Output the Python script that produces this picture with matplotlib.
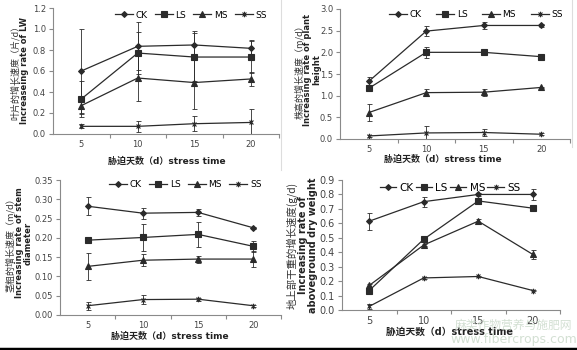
import numpy as np
import matplotlib
matplotlib.use('Agg')
import matplotlib.pyplot as plt
from matplotlib.path import Path
from matplotlib.lines import Line2D

plt.rcParams['font.family'] = ['DejaVu Sans', 'Noto Sans CJK SC']

days = ['5', '10', '15', '20']
series = ['CK', 'LS', 'MS', 'SS']

# 叶片增长速度 (LW)
lw = {'CK': [0.60, 0.835, 0.848, 0.816], 'LS': [0.333, 0.771, 0.733, 0.733],
      'MS': [0.27, 0.533, 0.49, 0.524], 'SS': [0.073, 0.073, 0.098, 0.11]}
lw_err = {'CK': [0.40, 0.23, 0.13, 0.08], 'LS': [0.17, 0.20, 0.23, 0.15],
          'MS': [0.08, 0.22, 0.25, 0.065], 'SS': [0.02, 0.055, 0.07, 0.13]}

# 株高增长速度
ph = {'CK': [1.33, 2.49, 2.62, 2.62], 'LS': [1.17, 2.0, 2.0, 1.90],
      'MS': [0.61, 1.07, 1.08, 1.19], 'SS': [0.07, 0.14, 0.15, 0.11]}
ph_err = {'CK': [0.09, 0.12, 0.08, 0.04], 'LS': [0.03, 0.13, 0.03, 0.03],
          'MS': [0.19, 0.08, 0.08, 0.02], 'SS': [0.03, 0.15, 0.09, 0.02]}

# 茎粗增长速度
sd = {'CK': [0.282, 0.264, 0.266, 0.226], 'LS': [0.194, 0.201, 0.209, 0.178],
      'MS': [0.126, 0.142, 0.145, 0.145], 'SS': [0.024, 0.040, 0.041, 0.024]}
sd_err = {'CK': [0.023, 0.014, 0.010, 0.003], 'LS': [0.003, 0.035, 0.032, 0.015],
          'MS': [0.034, 0.016, 0.009, 0.020], 'SS': [0.010, 0.012, 0.004, 0.002]}

# 地上部干重增长速度
dw = {'CK': [0.615, 0.75, 0.80, 0.80], 'LS': [0.135, 0.49, 0.755, 0.705],
      'MS': [0.17, 0.45, 0.615, 0.385], 'SS': [0.025, 0.222, 0.232, 0.135]}
dw_err = {'CK': [0.06, 0.035, 0.01, 0.04], 'LS': [0.01, 0.02, 0.02, 0.01],
          'MS': [0.01, 0.01, 0.015, 0.03], 'SS': [0.015, 0.005, 0.005, 0.005]}

star = Path([(-1, -1), (1, 1), (-1, 1), (1, -1), (0, -1.4), (0, 1.4)],
            [Path.MOVETO, Path.LINETO, Path.MOVETO, Path.LINETO, Path.MOVETO, Path.LINETO])
markers = {'CK': ('D', 3.0), 'LS': ('s', 4.5), 'MS': ('^', 4.5), 'SS': (star, 4.0)}

W, H = 577, 350
fig = plt.figure(figsize=(W / 100, H / 100), dpi=100)
line_c = '#2b2b2b'
axis_c = '#8a8a8a'


def fx(px):
    return px / W


def fy(py):
    return 1 - py / H


def panel(box, data, err, ylim, yticks, yfmt, legpos, fs=6, colsp=1.0, hl=2.0):
    l, r, t, b = box
    ax = fig.add_axes([fx(l), fy(b), fx(r - l), (b - t) / H])
    x = np.arange(1, 5)
    for s in series:
        m, ms = markers[s]
        ax.errorbar(x, data[s], yerr=err[s], fmt='none', ecolor=line_c, elinewidth=0.6,
                    capsize=1.8, capthick=0.6)
        ax.plot(x, data[s], color=line_c, lw=0.9, marker=m, ms=ms, mfc=line_c,
                mec=line_c, mew=0.8, label=s)
    ax.set_xlim(0.5, 4.5)
    ax.set_ylim(*ylim)
    ax.set_yticks(yticks)
    ax.set_yticklabels([yfmt.format(v) for v in yticks])
    ax.set_xticks([1.5, 2.5, 3.5, 4.5])
    ax.set_xticklabels([])
    ax.set_xticks(x, minor=True)
    ax.set_xticklabels(days, minor=True)
    ax.tick_params(axis='x', which='minor', length=0, pad=4.5, labelsize=fs, colors='#444444')
    ax.tick_params(axis='x', which='major', length=3, color=axis_c)
    ax.tick_params(axis='y', length=3, color=axis_c, labelsize=fs, labelcolor='#444444', pad=2)
    for sp in ['top', 'right']:
        ax.spines[sp].set_visible(False)
    for sp in ['left', 'bottom']:
        ax.spines[sp].set_color(axis_c)
        ax.spines[sp].set_linewidth(0.8)
    ax.legend(loc='center', bbox_to_anchor=legpos, ncol=4, frameon=False, fontsize=fs + 0.5,
              handlelength=hl, handletextpad=0.3, columnspacing=colsp, borderpad=0)
    return ax


panel((53, 279, 8, 134), lw, lw_err, (0, 1.2), np.arange(0, 1.21, 0.2), '{:.1f}', (0.61, 0.944), colsp=0.8)
panel((340, 570, 9, 139), ph, ph_err, (0, 3.0), np.arange(0, 3.01, 0.5), '{:.1f}', (0.59, 0.954), colsp=1.6)
panel((60, 281, 180, 315), sd, sd_err, (0, 0.35), np.arange(0, 0.351, 0.05), '{:.2f}', (0.566, 0.963), colsp=0.8)
panel((342, 560, 180, 310), dw, dw_err, (0, 0.9), np.arange(0, 0.91, 0.1), '{:.1f}', (0.495, 0.938),
      fs=7, colsp=0.2, hl=1.6)

# y labels
ylab = [
    (15, 25, 70, '叶片的增长速度（片/d）', 'Increaseing rate of LW'),
    (299, 312, 70, '株高的增长速度（m/d）', 'Increasing rate of plant\nheight'),
    (10, 24, 243, '茎粗的增长速度（m/d）', 'Increasing rate of stem\ndiameter'),
    (292, 308, 245, '地上部干重的增长速度(g/d)', 'Increasing rate of\naboveground dry weight'),
]
for i, (xc, xe, yc, zh, en) in enumerate(ylab):
    fs = 7 if i == 3 else 6
    fig.text(fx(xc), fy(yc), zh, rotation=90, ha='center', va='center', fontsize=fs + 0.5,
             family=['Noto Sans CJK SC', 'DejaVu Sans'], color='#333333')
    fig.text(fx(xe), fy(yc), en, rotation=90, ha='center', va='center', fontsize=fs,
             fontweight='bold', linespacing=1.0, color='#222222')

xlab = '胁迫天数（d）stress time'
for i, (xc, yc) in enumerate([(167, 161), (443, 159), (170, 336), (450, 332)]):
    fig.text(fx(xc), fy(yc), xlab, ha='center', va='center', fontsize=7 if i == 3 else 6.5,
             fontweight='bold', color='#222222')

# faint frame lines of the pasted panels
fig.add_artist(Line2D([fx(281), fx(281)], [fy(0), fy(170)], color='#dddddd', lw=0.8))
fig.add_artist(Line2D([fx(572), fx(572)], [fy(0), fy(147)], color='#dddddd', lw=0.8))

# watermark
fig.text(fx(514), fy(325), '麻类作物营养与施肥网', ha='center', va='center', fontsize=8.5,
         family=['Noto Sans CJK SC'], color='#c8d8c8', alpha=0.8)
fig.text(fx(514), fy(339), 'www.fibercrops.com', ha='center', va='center', fontsize=9,
         color='#c8d8c8', alpha=0.8)

# bottom border
fig.add_artist(Line2D([0, 1], [fy(349), fy(349)], color='black', lw=2.5))

fig.savefig('out.png', dpi=100)
